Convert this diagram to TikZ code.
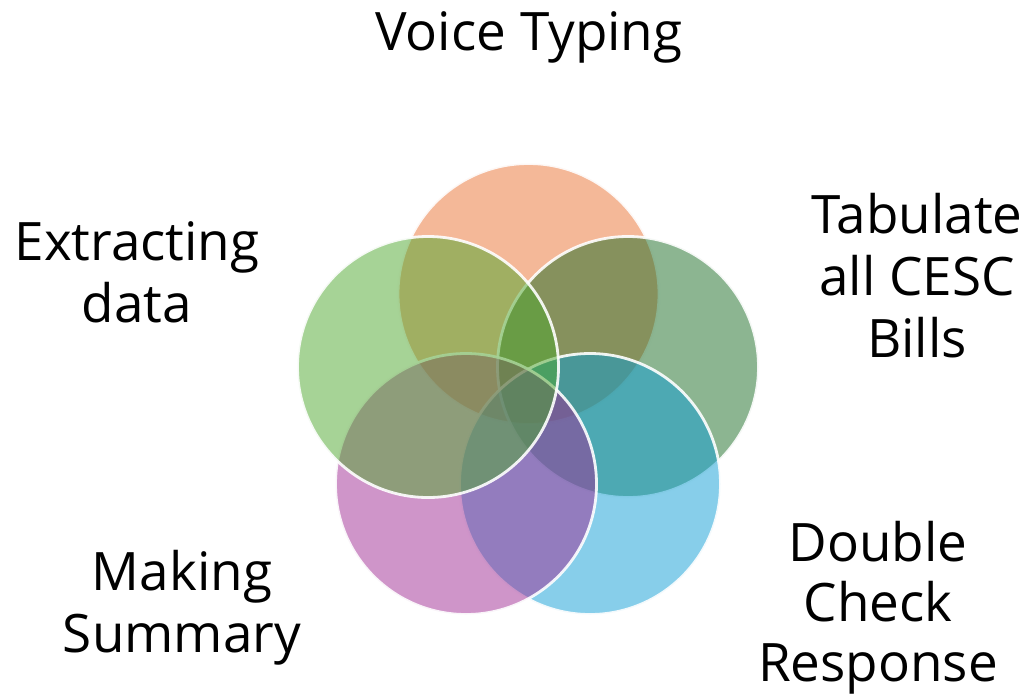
\documentclass[tikz,border=0pt]{standalone}
\usepackage{fontspec}
\setmainfont{Open Sans}
\definecolor{cOrange}{HTML}{E97132}
\definecolor{cDkGreen}{HTML}{196B24}
\definecolor{cBlue}{HTML}{0F9ED5}
\definecolor{cPurple}{HTML}{A02B93}
\definecolor{cLtGreen}{HTML}{4EA72E}
\begin{document}
\begin{tikzpicture}[x=1pt,y=-1pt,
  venn/.style={circle, minimum size=261pt, inner sep=0pt, fill opacity=0.5, draw=white, draw opacity=0.9, line width=2.8pt},
  lab/.style={inner sep=0pt, align=center, anchor=base, font=\fontsize{53}{62}\selectfont}]
\useasboundingbox (0,0) rectangle (1032,694);
\node[venn, fill=cOrange] (vt) at (528.5,294) {};
\node[venn, fill=cDkGreen] (tb) at (628,367) {};
\node[venn, fill=cBlue] (dc) at (590,484) {};
\node[venn, fill=cPurple] (ms) at (466,484) {};
\node[venn, fill=cLtGreen] (ed) at (428,367) {};
\node[lab] (lvt) at (529,50) {Voice Typing};
\node[lab] (led) at (137,322) {Extracting\\data};
\node[lab] (ltb) at (917,357) {Tabulate\\all CESC\\Bills};
\node[lab, font=\fontsize{53}{60}\selectfont] (ldc) at (878,681) {Double\\Check\\Response};
\node[lab] (lms) at (182,652) {Making\\Summary};
\end{tikzpicture}
\end{document}
